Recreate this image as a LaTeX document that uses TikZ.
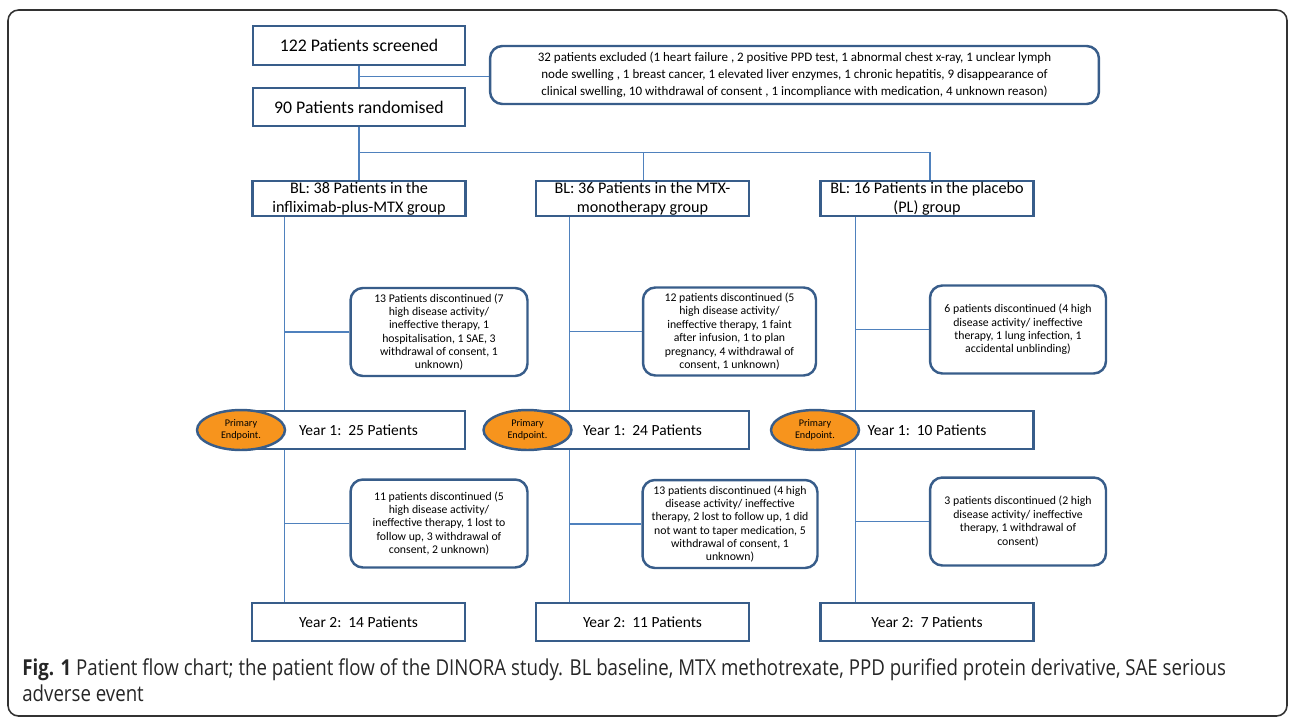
\documentclass[tikz,border=0pt]{standalone}
\usepackage{fontspec}
\setmainfont{Carlito}
\newfontfamily\capfont[FakeStretch=0.85]{Open Sans}
\usetikzlibrary{positioning,calc,shapes.geometric}
\definecolor{boxblue}{RGB}{56,93,138}
\definecolor{lineblue}{RGB}{79,129,189}
\definecolor{endorange}{RGB}{247,148,29}
\definecolor{framegray}{RGB}{50,50,50}

\tikzset{
  flowbox/.style={draw=boxblue, line width=1.4pt, fill=white, inner sep=0pt, align=center},
  bigbox/.style={flowbox, minimum width=4.24cm, minimum height=0.77cm,
    font=\fontsize{10.1}{12}\selectfont},
  groupbox/.style={flowbox, minimum width=4.26cm, minimum height=0.70cm,
    font=\fontsize{9.2}{10.6}\selectfont},
  yearbox/.style={flowbox, minimum width=4.26cm, minimum height=0.76cm,
    font=\fontsize{8.8}{10}\selectfont},
  notebox/.style={draw=boxblue, line width=1.4pt, fill=white, rounded corners=7pt,
    inner sep=0pt, align=center, minimum width=3.54cm, minimum height=1.76cm,
    font=\fontsize{6.7}{7.6}\selectfont},
  endpoint/.style={ellipse, draw=boxblue, line width=1.4pt, fill=endorange, inner sep=0pt,
    minimum width=1.76cm, minimum height=0.8cm, align=center,
    font=\fontsize{5.8}{6.8}\selectfont},
  link/.style={draw=lineblue, line width=0.6pt}
}

\begin{document}
\begin{tikzpicture}[x=0.02cm, y=-0.02cm]
  \useasboundingbox (0,0) rectangle (1295,718);
  \draw[framegray, line width=0.9pt, rounded corners=6pt] (8,10) rectangle (1287,716);

  \node[bigbox] (screened) at (359,45.5) {122 Patients screened};
  \node[bigbox] (randomised) at (359,107) {90 Patients randomised};
  \node[notebox, minimum width=12.18cm, minimum height=1.16cm,
        font=\fontsize{7.4}{9.6}\selectfont] (excluded) at (794.5,75)
    {32 patients excluded (1 heart failure , 2 positive PPD test, 1 abnormal chest x-ray, 1 unclear lymph\\
     node swelling , 1 breast cancer, 1 elevated liver enzymes, 1 chronic hepatitis, 9 disappearance of\\
     clinical swelling, 10 withdrawal of consent , 1 incompliance with medication, 4 unknown reason)};

  \node[groupbox] (blA) at (359,198.5) {BL: 38 Patients in the\\infliximab-plus-MTX group};
  \node[groupbox] (blB) at (642.5,198.5) {BL: 36 Patients in the MTX-\\monotherapy group};
  \node[groupbox] (blC) at (927,198.5) {BL: 16 Patients in the placebo\\(PL) group};

  \node[notebox] (discA) at (439,332)
    {13 Patients discontinued (7\\high disease activity/\\ineffective therapy, 1\\hospitalisation, 1 SAE, 3\\withdrawal of consent, 1\\unknown)};
  \node[notebox, minimum width=3.46cm] (discB) at (729.5,331.5)
    {12 patients discontinued (5\\high disease activity/\\ineffective therapy, 1 faint\\after infusion, 1 to plan\\pregnancy, 4 withdrawal of\\consent, 1 unknown)};
  \node[notebox, minimum width=3.52cm] (discC) at (1018,329.5)
    {6 patients discontinued (4 high\\disease activity/ ineffective\\therapy, 1 lung infection, 1\\accidental unblinding)};

  \node[yearbox] (yoneA) at (358.5,430) {Year 1:\ \ 25 Patients};
  \node[yearbox] (yoneB) at (642.5,430) {Year 1:\ \ 24 Patients};
  \node[yearbox] (yoneC) at (927,430) {Year 1:\ \ 10 Patients};
  \node[endpoint] (endA) at (241,430) {Primary\\Endpoint.};
  \node[endpoint] (endB) at (527.5,430) {Primary\\Endpoint.};
  \node[endpoint] (endC) at (815,430) {Primary\\Endpoint.};

  \node[notebox] (discD) at (439,523.5)
    {11 patients discontinued (5\\high disease activity/\\ineffective therapy, 1 lost to\\follow up, 3 withdrawal of\\consent, 2 unknown)};
  \node[notebox, minimum width=3.5cm] (discE) at (730,524)
    {13 patients discontinued (4 high\\disease activity/ ineffective\\therapy, 2 lost to follow up, 1 did\\not want to taper medication, 5\\withdrawal of consent, 1\\unknown)};
  \node[notebox, minimum width=3.52cm] (discF) at (1018,521.5)
    {3 patients discontinued (2 high\\disease activity/ ineffective\\therapy, 1 withdrawal of\\consent)};

  \node[yearbox] (ytwoA) at (358.5,622) {Year 2:\ \ 14 Patients};
  \node[yearbox] (ytwoB) at (642.5,622) {Year 2:\ \ 11 Patients};
  \node[yearbox] (ytwoC) at (927,622) {Year 2:\ \ 7 Patients};

  \coordinate (exclsplit) at ($(screened.south)!0.5!(randomised.north)$);
  \coordinate (armsplit) at ($(randomised.south)!0.48!(blA.north)$);
  \coordinate (trunkA) at ([xshift=0.66cm]blA.south west);
  \coordinate (trunkB) at ([xshift=0.70cm]blB.south west);
  \coordinate (trunkC) at ([xshift=0.72cm]blC.south west);

  \draw[link] (screened.south) -- (randomised.north);
  \draw[link] (exclsplit) -- (exclsplit -| excluded.west);
  \draw[link] (randomised.south) -- (blA.north);
  \draw[link] (armsplit) -| ([xshift=0.02cm]blB.north);
  \draw[link] (armsplit) -| ([xshift=0.06cm]blC.north);

  \draw[link] (trunkA) -- (trunkA |- yoneA.north);
  \draw[link] (trunkA |- yoneA.south) -- (trunkA |- ytwoA.north);
  \draw[link] (discA.west) -- (discA.west -| trunkA);
  \draw[link] (discD.west) -- (discD.west -| trunkA);
  \draw[link] (trunkB) -- (trunkB |- yoneB.north);
  \draw[link] (trunkB |- yoneB.south) -- (trunkB |- ytwoB.north);
  \draw[link] (discB.west) -- (discB.west -| trunkB);
  \draw[link] (discE.west) -- (discE.west -| trunkB);
  \draw[link] (trunkC) -- (trunkC |- yoneC.north);
  \draw[link] (trunkC |- yoneC.south) -- (trunkC |- ytwoC.north);
  \draw[link] (discC.west) -- (discC.west -| trunkC);
  \draw[link] (discF.west) -- (discF.west -| trunkC);

  \node[anchor=north west, align=left, inner sep=0pt, text=black!85,
        font=\capfont\fontsize{12.5}{15.2}\selectfont] (caption) at (22,658)
    {\textbf{Fig. 1} Patient flow chart; the patient flow of the DINORA study. BL baseline, MTX methotrexate, PPD purified protein derivative, SAE serious\\
     adverse event};
\end{tikzpicture}
\end{document}
